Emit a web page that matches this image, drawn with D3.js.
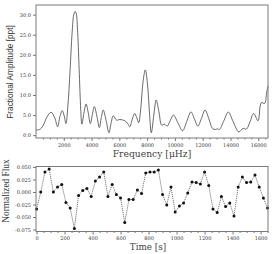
<!DOCTYPE html>
<html><head><meta charset="utf-8">
<script src="https://cdn.jsdelivr.net/npm/d3@7"></script>
<style>body{margin:0;background:#fff}svg{display:block}</style>
</head><body>
<script>
// Periodogram (top panel)
const freq = [0,250,500,800,1085,1350,1557,1720,1890,2030,2155,2300,2450,2600,2720,2820,2900,3000,3120,3220,3300,3450,3605,3760,3915,4060,4200,4380,4560,4700,4840,5050,5250,5400,5560,5800,6030,6390,6600,6750,6930,7100,7250,7390,7550,7700,7870,8030,8170,8300,8480,8650,8850,9050,9250,9440,9660,9890,10200,10550,10850,11150,11400,11650,11900,12170,12450,12700,12900,13050,13200,13500,13840,14200,14600,14900,15150,15400,15670,15980,16220,16460,16600,16700];
const amp  = [1.3,1.4,2.3,4.6,5.7,4.3,2.1,4.6,6.1,4.8,2.9,7.5,16,25.5,30,30.8,30.2,25.5,15,6.5,2.75,5.5,7.75,5.6,2.9,5.2,7.1,4.8,1.9,4.4,6.25,3.6,0.6,2.9,4.8,3.75,3.9,3.6,2.9,2.1,4.0,5.4,4.4,3.1,7.0,13.2,16.25,12.5,5.5,0.6,5.0,8.75,5.8,2.5,2.75,2.25,3.6,5.0,3.2,1.1,3.4,5.8,4.1,2.25,4.1,6.25,4.0,1.7,1.4,1.6,1.4,3.4,5.75,3.3,0.8,1.7,1.5,3.3,5.4,3.6,8.1,7.9,10.5,12.3];
const ampTicks = [0,5,10,15,20,25,30];
const freqTicks = [2000,4000,6000,8000,10000,12000,14000,16000];

// Light curve (bottom panel)
const time = d3.range(0, 1651, 30);
const flux = [-0.034,0.000,0.040,0.046,0.000,0.010,0.015,-0.021,-0.032,-0.073,
  -0.007,0.003,0.007,-0.009,0.022,0.030,0.040,-0.009,0.015,-0.005,
  -0.012,-0.061,-0.015,-0.015,0.004,-0.003,0.038,0.040,0.040,0.044,
  -0.005,-0.026,0.010,-0.040,-0.028,-0.022,-0.002,0.020,0.019,0.016,
  0.040,0.013,-0.034,-0.041,-0.009,-0.029,-0.022,-0.048,0.010,0.030,
  0.019,0.020,0.034,0.010,-0.012,-0.032];
const fluxTicks = [0.05,0.025,0,-0.025,-0.05,-0.075];
const timeTicks = [0,200,400,600,800,1000,1200,1400,1600];

const W = 274, H = 254;
const svg = d3.select("body").append("svg").attr("width", W).attr("height", H);
const L = 36, R = 268;
const spineCol = "#7a7a7a", tickFont = "DejaVu Serif", tickSize = 5;

function styleAxis(g){
  g.select(".domain").remove();
  g.selectAll(".tick line").attr("stroke", "#555").attr("stroke-width", 0.8);
  g.selectAll(".tick text").attr("font-family", tickFont).attr("font-size", tickSize).attr("fill", "#333");
}
function frame(top, bottom){
  svg.append("rect").attr("x", L).attr("y", top).attr("width", R-L).attr("height", bottom-top)
    .attr("fill", "none").attr("stroke", spineCol).attr("stroke-width", 1);
}

// ---- Top panel ----
const t1 = 5, b1 = 138;
const x1 = d3.scaleLinear().domain([0, 16700]).range([L, R]);
const y1 = d3.scaleLinear().domain([-0.7, 32.4]).range([b1, t1]);
svg.append("path").datum(freq.map((f,i)=>[f, amp[i]]))
  .attr("fill","none").attr("stroke","#444").attr("stroke-width",0.8)
  .attr("d", d3.line().x(d=>x1(d[0])).y(d=>y1(d[1])).curve(d3.curveCatmullRom.alpha(0.5)));
svg.append("g").attr("transform",`translate(0,${b1})`)
  .call(d3.axisBottom(x1).tickValues(d3.range(500,16700,500).filter(v=>v%2000)).tickSize(1.5).tickFormat(""))
  .call(styleAxis);
svg.append("g").attr("transform",`translate(0,${b1})`)
  .call(d3.axisBottom(x1).tickValues(freqTicks).tickSize(3).tickPadding(2).tickFormat(d3.format("d")))
  .call(styleAxis);
svg.append("g").attr("transform",`translate(${L},0)`)
  .call(d3.axisLeft(y1).tickValues(ampTicks).tickSize(3).tickPadding(2).tickFormat(d3.format(".1f")))
  .call(styleAxis);
frame(t1, b1);

svg.append("text").attr("transform",`translate(13,72) rotate(-90)`).attr("text-anchor","middle")
  .attr("font-family","Liberation Sans").attr("font-size",8.3).attr("fill","#333").text("Fractional Amplitude [ppt]");
svg.append("text").attr("x",152).attr("y",157).attr("text-anchor","middle")
  .attr("font-family","DejaVu Serif").attr("font-size",9.2).attr("fill","#444").text("Frequency [\u03bcHz]");

// ---- Bottom panel ----
const t2 = 166.5, b2 = 231.5;
const x2 = d3.scaleLinear().domain([-4, 1653]).range([L, R]);
const y2 = d3.scaleLinear().domain([-0.079, 0.051]).range([b2, t2]);
svg.append("g").attr("transform",`translate(0,${b2})`)
  .call(d3.axisBottom(x2).tickValues(d3.range(50,1653,50).filter(v=>v%200)).tickSize(1.5).tickFormat(""))
  .call(styleAxis);
svg.append("g").attr("transform",`translate(0,${b2})`)
  .call(d3.axisBottom(x2).tickValues(timeTicks).tickSize(3).tickPadding(2).tickFormat(d3.format("d")))
  .call(styleAxis);
svg.append("g").attr("transform",`translate(${L},0)`)
  .call(d3.axisLeft(y2).tickValues(fluxTicks).tickSize(3).tickPadding(2).tickFormat(d=>d3.format(".3f")(d).replace("\u2212","-")))
  .call(styleAxis);

const pts = time.map((t,i)=>[t, flux[i]]);
svg.append("path").datum(pts).attr("fill","none").attr("stroke","#444").attr("stroke-width",0.7)
  .attr("stroke-dasharray","1.2,0.8")
  .attr("d", d3.line().x(d=>x2(d[0])).y(d=>y2(d[1])));
svg.append("g").selectAll("circle").data(pts).join("circle")
  .attr("cx", d=>x2(d[0])).attr("cy", d=>y2(d[1])).attr("r",1.5).attr("fill","#111");
frame(t2, b2);

svg.append("text").attr("transform",`translate(9,191) rotate(-90)`).attr("text-anchor","middle")
  .attr("font-family","Liberation Serif").attr("font-size",9.3).attr("fill","#333").text("Normalized Flux");
svg.append("text").attr("x",148).attr("y",250).attr("text-anchor","middle")
  .attr("font-family","DejaVu Serif").attr("font-size",8.8).attr("fill","#444").text("Time [s]");
</script>
</body></html>
